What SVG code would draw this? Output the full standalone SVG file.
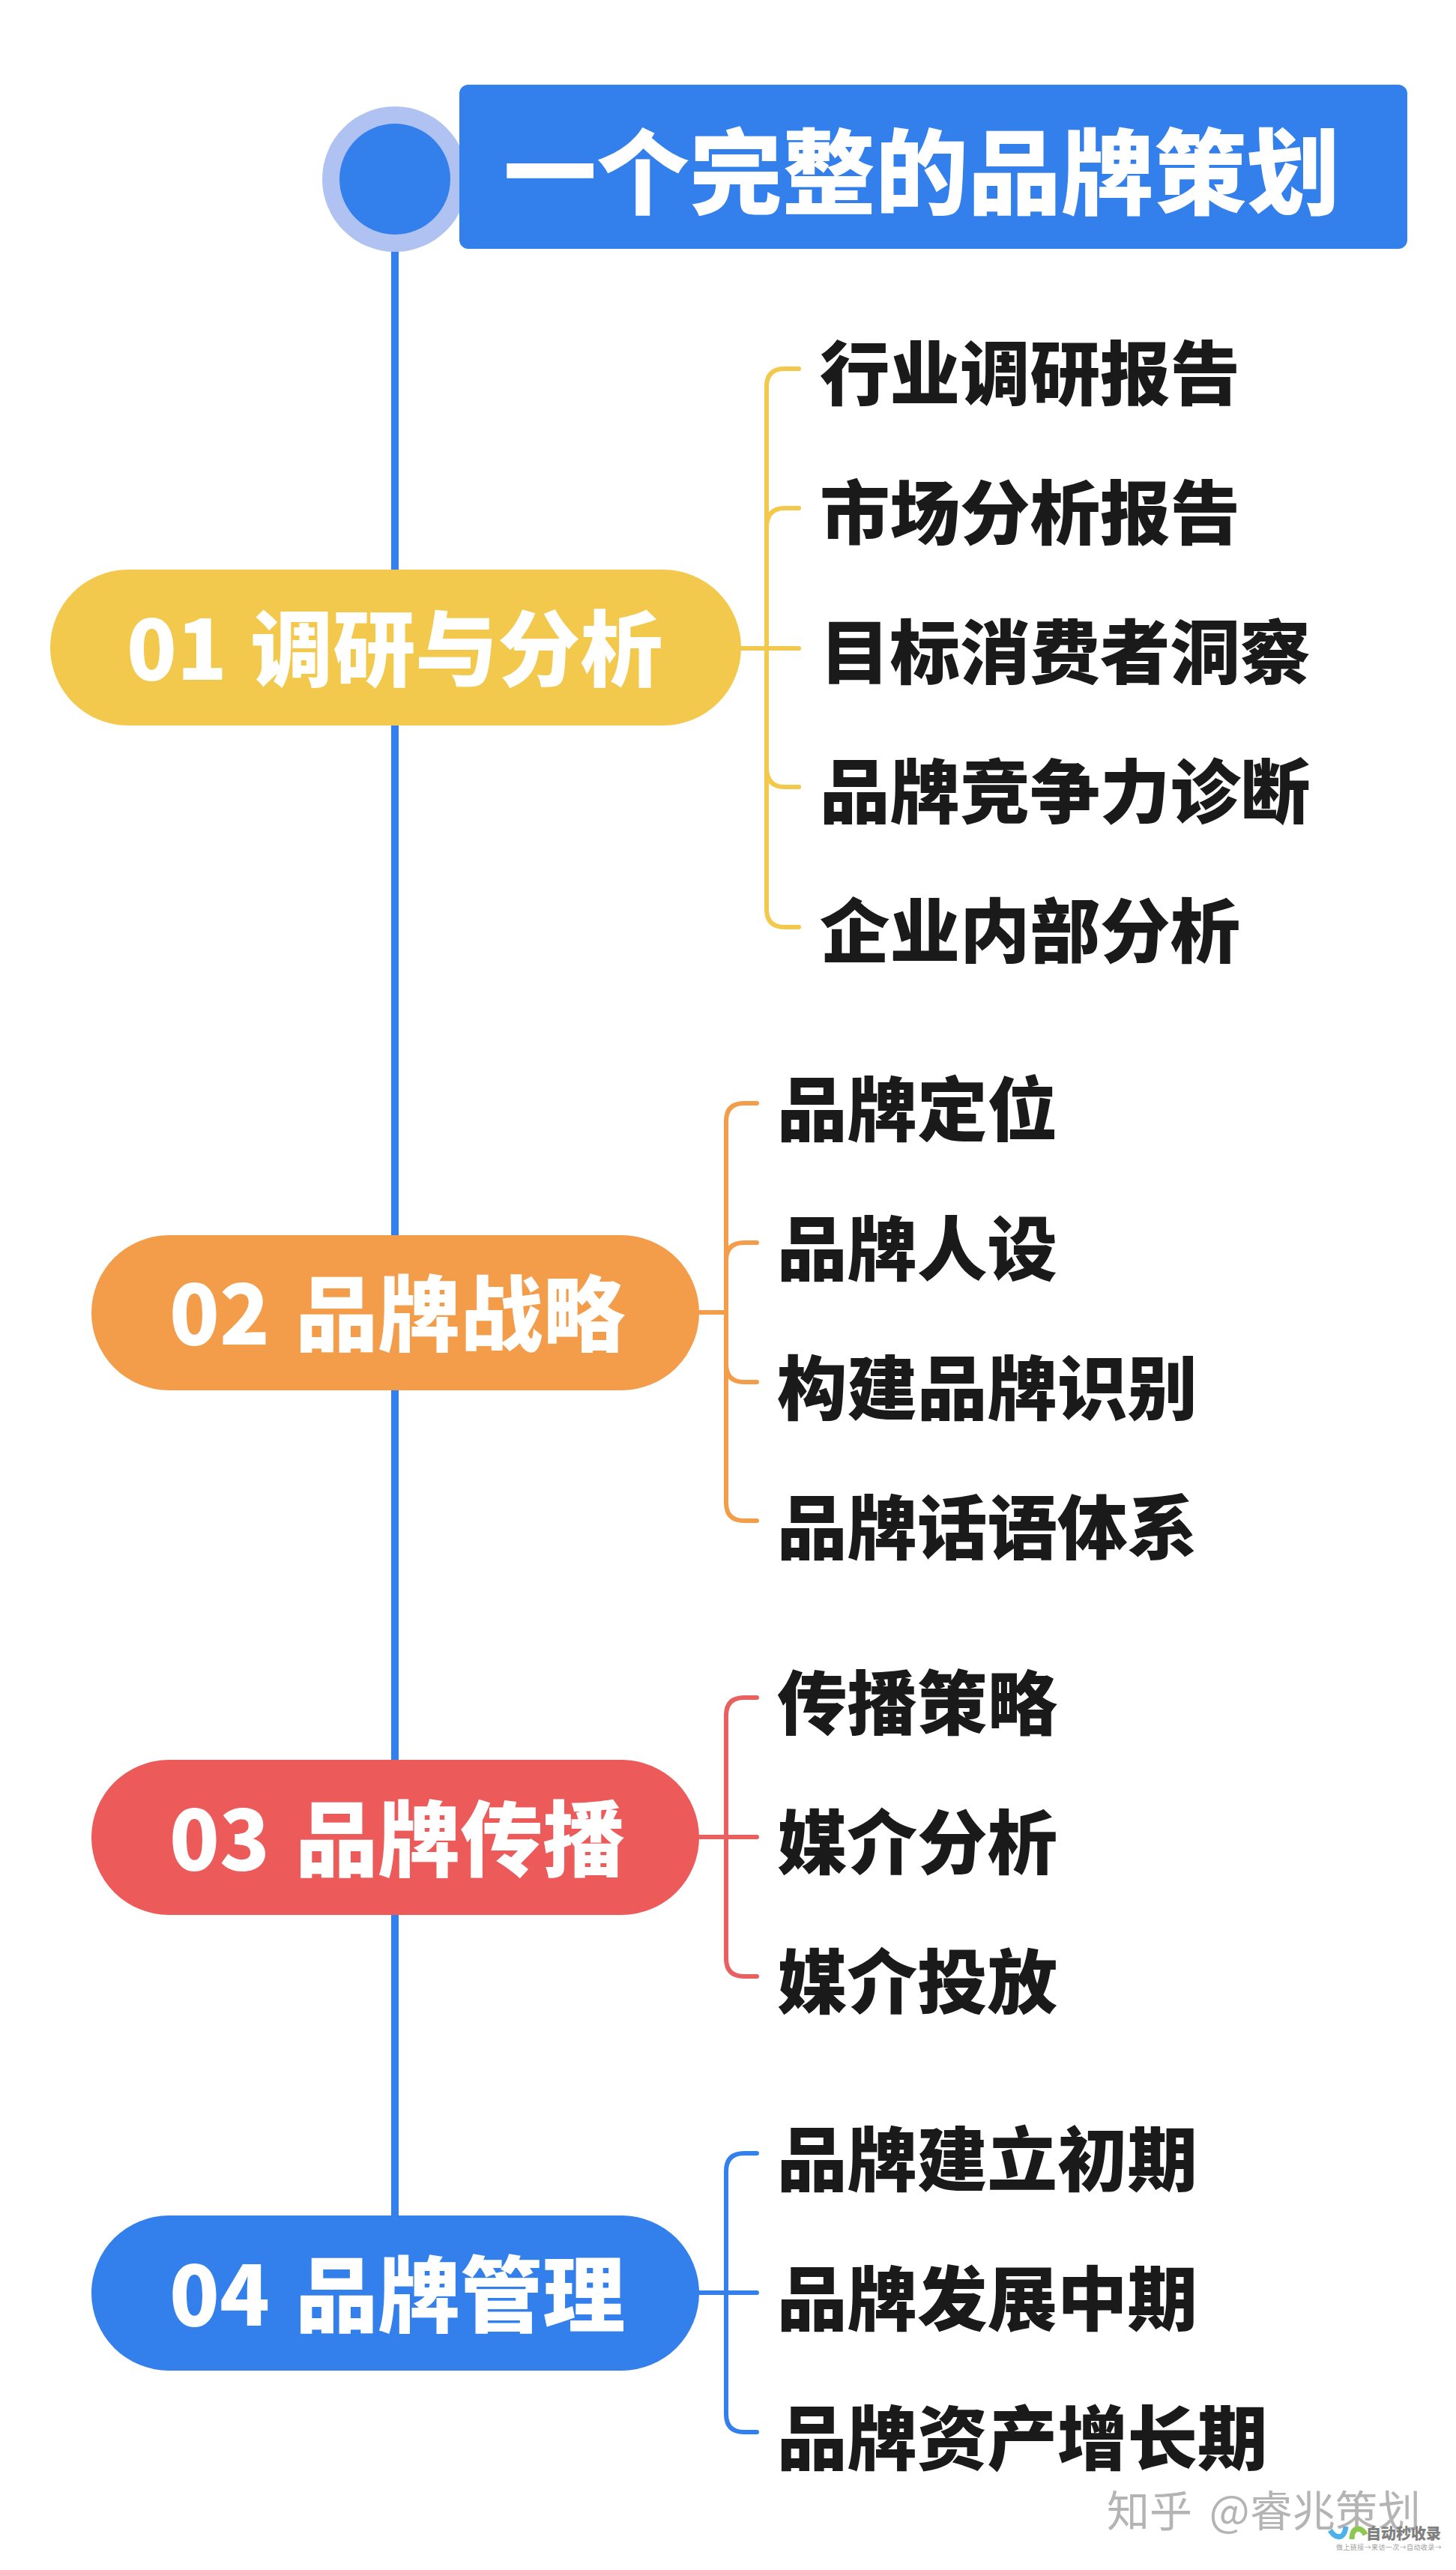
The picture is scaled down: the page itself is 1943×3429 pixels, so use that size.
<svg xmlns="http://www.w3.org/2000/svg" width="1943" height="3429" viewBox="0 0 1943 3429">
<style>
text{font-family:"Noto Sans CJK SC","Noto Sans",sans-serif;font-weight:900}
.item{font-size:93.5px;fill:#1a1a1a}
.pill{font-size:110px;fill:#fff;word-spacing:9px}
.br{fill:none;stroke-width:6;stroke-linecap:round}
</style>
<rect width="1943" height="3429" fill="#fff"/>
<g id="connectors">
<line x1="527" y1="300" x2="527" y2="3000" stroke="#3380EC" stroke-width="10"/>
<path class="br" stroke="#F2C94C" d="M1066 492H1047Q1023 492 1023 516V1213Q1023 1237 1047 1237H1066M1023 704Q1023 678 1047 678H1066M989 865H1066M1023 1024Q1023 1050 1047 1050H1066"/>
<path class="br" stroke="#F39C4A" d="M1010 1472H993Q969 1472 969 1496V2005Q969 2029 993 2029H1010M969 1682Q969 1658 993 1658H1010M933 1751H969M969 1820Q969 1844 993 1844H1010"/>
<path class="br" stroke="#E8605F" d="M1010 2265H993Q969 2265 969 2289V2613Q969 2637 993 2637H1010M933 2451H1010"/>
<path class="br" stroke="#3380EC" d="M1010 2873H993Q969 2873 969 2897V3221Q969 3245 993 3245H1010M933 3059H1010"/>
</g>
<g id="title">
<circle cx="527" cy="239" r="97" fill="#AFC2F2"/>
<circle cx="527" cy="239" r="74" fill="#3380EC"/>
<rect x="613" y="113" width="1265" height="219" rx="12" fill="#3380EC"/>
<text x="672" y="276" font-size="124" fill="#fff">一个完整的品牌策划</text>
</g>
<g id="node-01"><rect x="67" y="760" width="922" height="208" rx="104" fill="#F2C94C"/>
<text class="pill" x="169" y="907" style="word-spacing:6px">01 调研与分析</text></g>
<g id="node-02"><rect x="122" y="1648" width="811" height="207" rx="103.5" fill="#F39C4A"/>
<text class="pill" x="226" y="1794">02 品牌战略</text></g>
<g id="node-03"><rect x="122" y="2348" width="811" height="207" rx="103.5" fill="#EC5A5A"/>
<text class="pill" x="226" y="2495">03 品牌传播</text></g>
<g id="node-04"><rect x="122" y="2956" width="811" height="207" rx="103.5" fill="#3380EC"/>
<text class="pill" x="226" y="3103">04 品牌管理</text></g>
<g id="items-01">
<text class="item" x="1094" y="533">行业调研报告</text>
<text class="item" x="1094" y="719">市场分析报告</text>
<text class="item" x="1094" y="905">目标消费者洞察</text>
<text class="item" x="1094" y="1091">品牌竞争力诊断</text>
<text class="item" x="1094" y="1277">企业内部分析</text></g>
<g id="items-02">
<text class="item" x="1037" y="1515">品牌定位</text>
<text class="item" x="1037" y="1701">品牌人设</text>
<text class="item" x="1037" y="1887">构建品牌识别</text>
<text class="item" x="1037" y="2073">品牌话语体系</text></g>
<g id="items-03">
<text class="item" x="1037" y="2307">传播策略</text>
<text class="item" x="1037" y="2493">媒介分析</text>
<text class="item" x="1037" y="2679">媒介投放</text></g>
<g id="items-04">
<text class="item" x="1037" y="2916">品牌建立初期</text>
<text class="item" x="1037" y="3102">品牌发展中期</text>
<text class="item" x="1037" y="3288">品牌资产增长期</text></g>
<g id="watermark">
<text x="1477" y="3371" font-size="57" word-spacing="10" fill="#b4b4b4" style="font-weight:400">知乎 @睿兆策划</text>
<path d="M1775 3376Q1782 3387 1790 3384Q1795 3381 1796 3371" fill="none" stroke="#4DB2EA" stroke-width="7"/>
<path d="M1804 3388Q1804 3374 1813 3374Q1819 3375 1822 3382" fill="none" stroke="#8CC850" stroke-width="7"/>
<text x="1823" y="3388" font-size="20" fill="#808080">自动秒收录</text>
<text x="1783" y="3402" font-size="9" letter-spacing=".4" fill="#a0a0a0" style="font-weight:400">做上链接→来访一次→自动收录→</text>
</g>
</svg>
